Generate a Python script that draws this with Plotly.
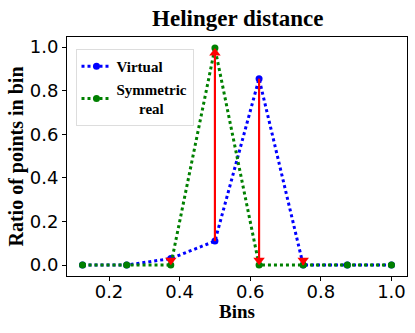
import plotly.graph_objects as go

bins = [0.125, 0.25, 0.375, 0.5, 0.625, 0.75, 0.875, 1.0]
virtual = [0.0, 0.0, 0.03, 0.11, 0.855, 0.0, 0.0, 0.0]
sym_real = [0.0, 0.0, 0.0, 0.995, 0.0, 0.0, 0.0, 0.0]

serif = "Liberation Serif"
sans = "DejaVu Sans"

fig = go.Figure()

fig.add_trace(go.Scatter(x=bins, y=virtual, mode="lines+markers", name="<b>Virtual</b>",
                         line=dict(color="blue", width=3, dash="dot"),
                         marker=dict(color="blue", size=7)))
fig.add_trace(go.Scatter(x=bins, y=sym_real, mode="lines+markers",
                         name="<b>Symmetric</b><br><b>      real</b>",
                         line=dict(color="green", width=3, dash="dot"),
                         marker=dict(color="green", size=7)))

# red arrows from virtual to symmetric real
arrow_idx = [2, 3, 4, 5]
head_off = 0.022
sx, sy, hx, hy, hs = [], [], [], [], []
for i in arrow_idx:
    up = sym_real[i] > virtual[i]
    tip = sym_real[i] - head_off if up else sym_real[i] + head_off
    sx += [bins[i], bins[i], None]
    sy += [virtual[i], tip, None]
    hx.append(bins[i])
    hy.append(tip)
    hs.append("triangle-up" if up else "triangle-down")
fig.add_trace(go.Scatter(x=sx, y=sy, mode="lines", line=dict(color="red", width=2.2),
                         showlegend=False, hoverinfo="skip"))
fig.add_trace(go.Scatter(x=hx, y=hy, mode="markers",
                         marker=dict(color="red", size=10, symbol=hs, line=dict(width=0)),
                         showlegend=False, hoverinfo="skip"))

fig.update_layout(
    width=415, height=333,
    plot_bgcolor="white", paper_bgcolor="white",
    margin=dict(l=67, r=8, t=37, b=57),
    title=dict(text="<b>Helinger distance</b>", x=0.573, xanchor="center", y=0.945, yanchor="middle",
               font=dict(family=serif, size=23, color="black")),
    legend=dict(x=0.025, y=0.95, xanchor="left", yanchor="top",
                bordercolor="#dddddd", borderwidth=1, bgcolor="white",
                font=dict(family=serif, size=15, color="black"),
                tracegroupgap=0, itemwidth=30),
    showlegend=True,
)
fig.add_annotation(text="<b>Bins</b>", xref="paper", yref="paper", x=0.5, y=-0.15,
                   xanchor="center", yanchor="middle", showarrow=False,
                   font=dict(family=serif, size=19, color="black"))
fig.update_xaxes(range=[0.081, 1.044], tickvals=[0.2, 0.4, 0.6, 0.8, 1.0],
                 ticktext=["0.2", "0.4", "0.6", "0.8", "1.0"], automargin=False,
                 showgrid=False, zeroline=False, showline=True, linecolor="black", linewidth=1,
                 mirror=True, ticks="outside", ticklen=4, tickcolor="black", ticklabelstandoff=-5,
                 tickfont=dict(family=sans, size=18, color="black"))
fig.update_yaxes(range=[-0.05, 1.046], tickvals=[0, 0.2, 0.4, 0.6, 0.8, 1.0],
                 ticktext=["0.0", "0.2", "0.4", "0.6", "0.8", "1.0"], automargin=False,
                 showgrid=False, zeroline=False, showline=True, linecolor="black", linewidth=1,
                 mirror=True, ticks="outside", ticklen=4, tickcolor="black",
                 tickfont=dict(family=sans, size=18, color="black"),
                 title=dict(text="<b>Ratio of points in bin</b>", font=dict(family=serif, size=20, color="black"), standoff=0))

fig.write_html("out.html", config={"displayModeBar": False},
               post_script="document.body.style.margin='0';")
